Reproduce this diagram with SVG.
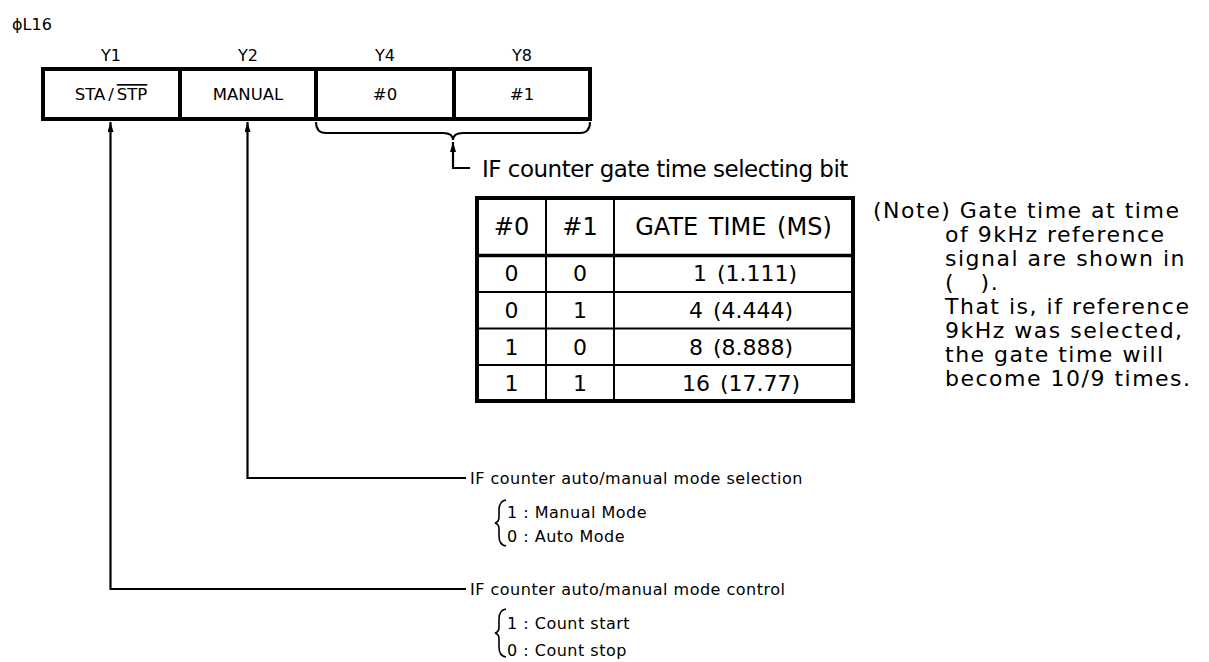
<svg xmlns="http://www.w3.org/2000/svg" width="1209" height="662" viewBox="0 0 1209 662">
<defs>
<style>
text{font-family:"DejaVu Sans","Liberation Sans",sans-serif;fill:#000}
.sm{font-size:16px}
.cell{font-size:16.5px}
.big{font-size:23px;letter-spacing:-0.5px}
.th{font-size:24px}
.tb{font-size:22px}
.ws{word-spacing:3px}
.note{font-size:22px;letter-spacing:1.5px}
.lbl{font-size:16px;letter-spacing:0.5px}
.ln{fill:none;stroke:#000;stroke-width:2.2}
.thin{fill:none;stroke:#000;stroke-width:2}
.brc{fill:none;stroke:#000;stroke-width:1.6}
.box{fill:#fff;stroke:#000;stroke-width:4}
.rule{stroke:#000;stroke-width:2}
.bar{stroke:#000;stroke-width:4}
</style>
<marker id="arr" markerUnits="userSpaceOnUse" markerWidth="10" markerHeight="6" refX="10" refY="3" orient="auto" viewBox="0 0 10 6">
<path d="M0,0 L10,3 L0,6 Z" fill="#000"/>
</marker>
</defs>
<rect width="1209" height="662" fill="#fff"/>

<text id="title" class="sm" x="12" y="30">ϕL16</text>

<g id="register">
<rect class="box" x="43" y="69" width="547" height="50"/>
<line class="bar" x1="180" y1="69" x2="180" y2="119"/>
<line class="bar" x1="316" y1="69" x2="316" y2="119"/>
<line class="bar" x1="454" y1="69" x2="454" y2="119"/>
<text class="sm" x="111" y="61" text-anchor="middle">Y1</text>
<text class="sm" x="248" y="61" text-anchor="middle">Y2</text>
<text class="sm" x="385" y="61" text-anchor="middle">Y4</text>
<text class="sm" x="522" y="61" text-anchor="middle">Y8</text>
</g>
<g id="bit-y1"><text class="cell" x="111" y="100" text-anchor="middle">STA<tspan dx="3">/</tspan><tspan dx="3" text-decoration="overline">STP</tspan></text></g>
<g id="bit-y2"><text class="cell" x="248" y="100" text-anchor="middle">MANUAL</text></g>
<g id="bit-y4"><text class="cell" x="385" y="100" text-anchor="middle">#0</text></g>
<g id="bit-y8"><text class="cell" x="522" y="100" text-anchor="middle">#1</text></g>

<g id="connectors">
<path class="thin" d="M316,122 Q316,133 326,133 H443 Q453,133 453,140 Q453,133 463,133 H580 Q590,133 590,122"/>
<path class="ln" d="M470,168 H453 V142" marker-end="url(#arr)"/>
<path class="ln" d="M466,478 H247.5 V122" marker-end="url(#arr)"/>
<path class="ln" d="M466,589 H110.5 V122" marker-end="url(#arr)"/>
</g>

<g id="gate-label"><text class="big" x="482" y="177">IF counter gate time selecting bit</text></g>

<g id="gate-table">
<rect class="box" x="477" y="198" width="376" height="203" fill="none"/>
<line x1="477" y1="255.5" x2="853" y2="255.5" stroke="#000" stroke-width="3.5"/>
<line class="rule" x1="477" y1="292" x2="853" y2="292"/>
<line class="rule" x1="477" y1="328.5" x2="853" y2="328.5"/>
<line class="rule" x1="477" y1="365" x2="853" y2="365"/>
<line class="rule" x1="546" y1="198" x2="546" y2="401"/>
<line class="rule" x1="614" y1="198" x2="614" y2="401"/>
<text class="th" x="511.5" y="235" text-anchor="middle">#0</text>
<text class="th" x="580" y="235" text-anchor="middle">#1</text>
<text class="th ws" x="733.5" y="235" text-anchor="middle">GATE TIME (MS)</text>
<text class="tb" x="511.5" y="281" text-anchor="middle">0</text>
<text class="tb" x="580" y="281" text-anchor="middle">0</text>
<text class="tb ws" x="745" y="281" text-anchor="middle">1 (1.111)</text>
<text class="tb" x="511.5" y="318" text-anchor="middle">0</text>
<text class="tb" x="580" y="318" text-anchor="middle">1</text>
<text class="tb ws" x="741" y="318" text-anchor="middle">4 (4.444)</text>
<text class="tb" x="511.5" y="355" text-anchor="middle">1</text>
<text class="tb" x="580" y="355" text-anchor="middle">0</text>
<text class="tb ws" x="741" y="355" text-anchor="middle">8 (8.888)</text>
<text class="tb" x="511.5" y="391" text-anchor="middle">1</text>
<text class="tb" x="580" y="391" text-anchor="middle">1</text>
<text class="tb ws" x="741" y="391" text-anchor="middle">16 (17.77)</text>
</g>

<g id="note">
<text class="note" x="873" y="218">(Note) Gate time at time</text>
<text class="note" x="945" y="242">of 9kHz reference</text>
<text class="note" x="945" y="266">signal are shown in</text>
<text class="note" x="945" y="290" xml:space="preserve">(   ).</text>
<text class="note" x="945" y="314">That is, if reference</text>
<text class="note" x="945" y="338">9kHz was selected,</text>
<text class="note" x="945" y="362">the gate time will</text>
<text class="note" x="945" y="386">become 10/9 times.</text>
</g>

<g id="manual-label">
<text class="lbl" x="470" y="484">IF counter auto/manual mode selection</text>
<path class="brc" d="M506,500 Q499,501 499,510 V517 Q499,522 495,523 Q499,524 499,529 V536 Q499,545 506,546"/>
<text class="lbl" x="507" y="518">1 : Manual Mode</text>
<text class="lbl" x="507" y="542">0 : Auto Mode</text>
</g>

<g id="start-label">
<text class="lbl" x="470" y="595">IF counter auto/manual mode control</text>
<path class="brc" d="M506,609 Q499,610 499,619 V627 Q499,632 495,633 Q499,634 499,639 V647 Q499,656 506,657"/>
<text class="lbl" x="507" y="629">1 : Count start</text>
<text class="lbl" x="507" y="656">0 : Count stop</text>
</g>
</svg>
